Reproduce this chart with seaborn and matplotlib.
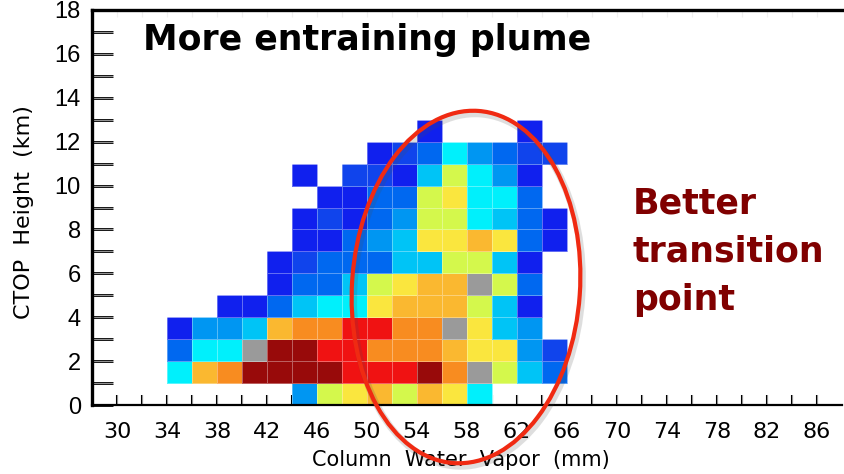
import numpy as np
import pandas as pd
import matplotlib
matplotlib.use("Agg")
import matplotlib.pyplot as plt
from matplotlib.colors import ListedColormap
from matplotlib.patches import Ellipse
import seaborn as sns

# ---------------- data ----------------
# column water vapor bin starts (mm), each bin 2 mm wide
cwv_bins = [34, 36, 38, 40, 42, 44, 46, 48, 50, 52, 54, 56, 58, 60, 62, 64]
# cloud-top height bin starts (km), each bin 1 km tall
ctop_bins = list(range(0, 13))
# colour class of each cell (0 = empty, 1..12 = blue -> dark red, 13 = grey)
row_0 = [0, 0, 0, 0, 0, 4, 7, 8, 9, 7, 9, 8, 6, 0, 0, 0]
row_1 = [6, 9, 10, 12, 12, 12, 12, 11, 11, 11, 12, 10, 13, 7, 5, 3]
row_2 = [3, 6, 6, 13, 12, 12, 11, 11, 10, 10, 10, 9, 8, 8, 4, 2]
row_3 = [1, 4, 4, 5, 9, 10, 10, 11, 11, 10, 10, 13, 8, 5, 4, 0]
row_4 = [0, 0, 1, 1, 3, 5, 6, 6, 8, 9, 9, 9, 7, 5, 1, 0]
row_5 = [0, 0, 0, 0, 1, 3, 3, 5, 7, 8, 9, 9, 13, 7, 3, 0]
row_6 = [0, 0, 0, 0, 1, 2, 3, 3, 3, 5, 5, 7, 7, 5, 1, 0]
row_7 = [0, 0, 0, 0, 0, 1, 1, 3, 4, 5, 8, 8, 9, 8, 3, 1]
row_8 = [0, 0, 0, 0, 0, 1, 2, 1, 3, 4, 7, 7, 6, 5, 3, 1]
row_9 = [0, 0, 0, 0, 0, 0, 1, 1, 3, 3, 7, 8, 6, 6, 3, 0]
row_10 = [0, 0, 0, 0, 0, 1, 0, 2, 2, 1, 5, 7, 6, 4, 1, 0]
row_11 = [0, 0, 0, 0, 0, 0, 0, 0, 1, 2, 3, 6, 4, 3, 2, 2]
row_12 = [0, 0, 0, 0, 0, 0, 0, 0, 0, 0, 1, 0, 0, 0, 1, 0]
rows = [row_0, row_1, row_2, row_3, row_4, row_5, row_6, row_7,
        row_8, row_9, row_10, row_11, row_12]

class_colors = ["#1020EE", "#1044EC", "#0068F0", "#0096F2", "#00C4F6", "#00F0FC",
                "#D4F84C", "#FAE63E", "#FAB830", "#F88C20", "#F01212", "#980A0A",
                "#9A9A9A"]

x_min, x_max, x_step = 28, 88, 2
y_min, y_max, y_step = 0, 18, 1
xtick_vals = list(range(30, 88, 2))
xtick_labels = [str(v) if (v - 30) % 4 == 0 else "" for v in xtick_vals]
ytick_vals = list(range(0, 19))
ytick_labels = [str(v) if v % 2 == 0 else "" for v in ytick_vals]

# ---------------- grid ----------------
ncol = (x_max - x_min) // x_step
nrow = (y_max - y_min) // y_step
grid = np.full((nrow, ncol), np.nan)
for r, row in zip(ctop_bins, rows):
    for c, val in zip(cwv_bins, row):
        if val:
            grid[(r - y_min) // y_step, (c - x_min) // x_step] = val
df = pd.DataFrame(grid)

sns.set_style("white")
plt.rcParams["font.family"] = ["DejaVu Sans"]
plt.rcParams["text.color"] = "black"
plt.rcParams["axes.labelcolor"] = "black"
plt.rcParams["xtick.color"] = "black"
plt.rcParams["ytick.color"] = "black"

fig = plt.figure(figsize=(8.45, 4.74), dpi=100)
ax = fig.add_axes([92 / 845, 69 / 474, 750 / 845, 395 / 474])

cmap = ListedColormap(class_colors)
sns.heatmap(df, ax=ax, cmap=cmap, vmin=0.5, vmax=len(class_colors) + 0.5,
            cbar=False, linewidths=0.4, linecolor=(1, 1, 1, 0.35),
            xticklabels=False, yticklabels=False)
ax.set_xlim(0, ncol)
ax.set_ylim(0, nrow)

ax.set_xticks([(v - x_min) / x_step for v in xtick_vals])
ax.set_xticklabels(xtick_labels, fontsize=16, rotation=0, color="black")
ax.set_yticks([(v - y_min) / y_step for v in ytick_vals])
ax.set_yticklabels(ytick_labels, fontsize=17, rotation=0, color="black",
                   family=["Liberation Sans", "DejaVu Sans"])
ax.tick_params(axis="x", direction="in", length=7, width=1.5, pad=12,
               bottom=True, colors="black")
ax.tick_params(axis="y", direction="in", length=15, width=2, pad=8,
               left=True, colors="black")

for s, lw in [("left", 2.4), ("bottom", 1.6), ("top", 2.4)]:
    ax.spines[s].set_visible(True)
    ax.spines[s].set_linewidth(lw)
    ax.spines[s].set_color("black")
ax.spines["right"].set_visible(False)

top = ax.secondary_xaxis("top")
top.set_xticks([(v - x_min) / x_step for v in xtick_vals])
top.set_xticklabels([])
top.tick_params(direction="in", length=5, width=0.8, colors="#dddddd")
top.spines["top"].set_visible(False)

ax.set_xlabel("Column  Water  Vapor  (mm)", fontsize=15, va="center", color="black")
ax.xaxis.set_label_coords(0.492, -0.139)
ax.set_ylabel("CTOP  Height  (km)", fontsize=16, va="center", color="black")
ax.yaxis.set_label_coords(-0.0907, 0.489)

fig.text(143 / 845, 1 - 50 / 474, "More entraining plume", fontsize=25,
         fontweight="bold", ha="left", va="baseline", color="black")
for txt, base in [("Better", 213), ("transition", 262), ("point", 310)]:
    fig.text(633 / 845, 1 - base / 474, txt, fontsize=25, fontweight="bold",
             ha="left", va="baseline", color="#800000")

# annotation ellipse (figure inches)
shadow = Ellipse((4.68, 1.84), 2.28, 3.53, angle=-4, fill=False,
                 edgecolor=(0.3, 0.3, 0.3, 0.18), linewidth=5,
                 transform=fig.dpi_scale_trans, zorder=20)
fig.add_artist(shadow)
ell = Ellipse((4.66, 1.87), 2.28, 3.53, angle=-4, fill=False,
              edgecolor="#F02A12", linewidth=3,
              transform=fig.dpi_scale_trans, zorder=21)
fig.add_artist(ell)

fig.savefig("out.png", dpi=100)
